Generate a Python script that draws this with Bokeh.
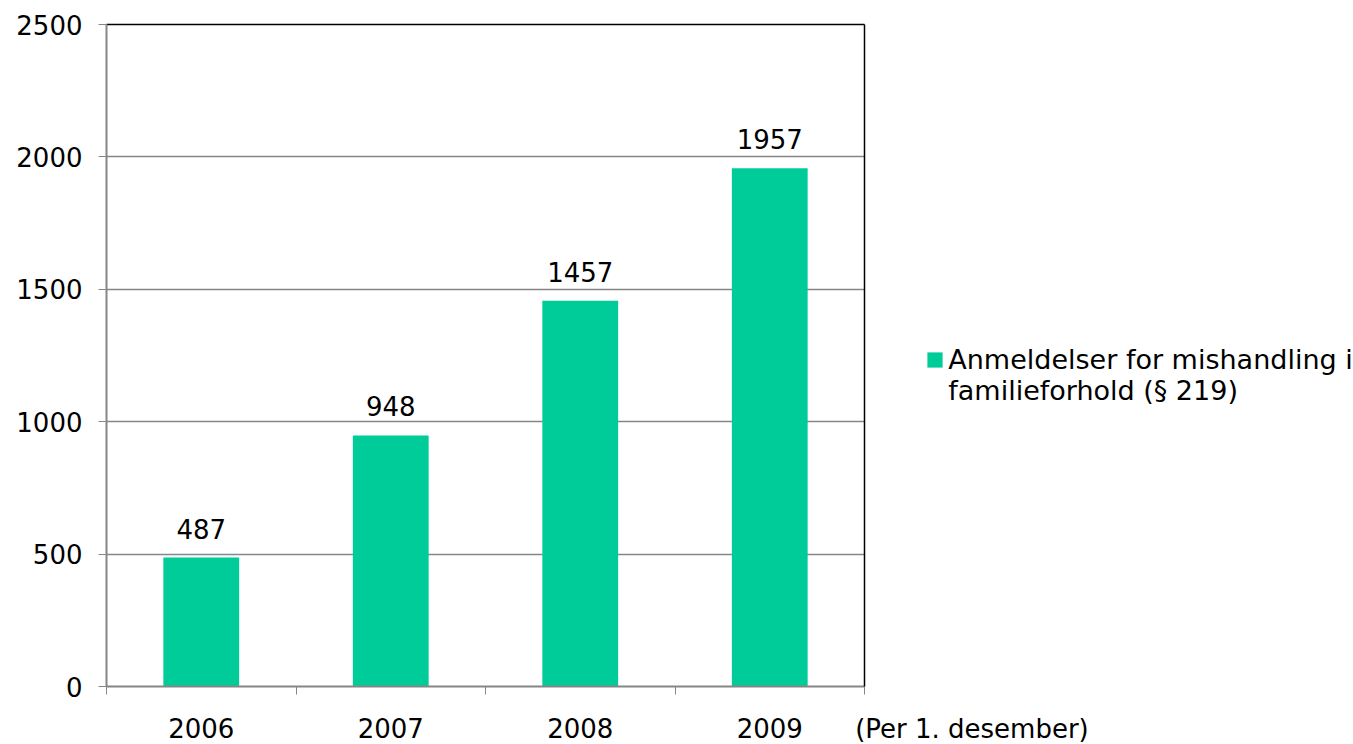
from bokeh.plotting import figure
from bokeh.models import FixedTicker, Legend, LegendItem, ColumnDataSource, Range1d, LinearAxis
from bokeh.core.properties import value
from bokeh.embed import file_html
from bokeh.resources import INLINE

years = ["2006", "2007", "2008", "2009"]
counts = [487, 948, 1457, 1957]
y_ticks = [0, 500, 1000, 1500, 2000, 2500]
series_lines = ["Anmeldelser for mishandling i", "familieforhold (§ 219)"]
x_note = "(Per 1. desember)"

FONT = "DejaVu Sans"
FS = "26px"
BAR = "#00CC99"
GRAY = "#868686"

pos = [i + 1 for i in range(len(years))]
x_end = len(years) + 0.5
src = ColumnDataSource(dict(x=pos, top=counts, lab=[str(c) for c in counts]))

p = figure(frame_width=758, frame_height=662, output_backend="svg", toolbar_location=None,
           x_range=Range1d(0.5, x_end), y_range=Range1d(0, 2500),
           min_border_left=106, min_border_top=24, min_border_right=489, min_border_bottom=40)
p.outline_line_color = None
p.background_fill_color = "white"
p.border_fill_color = "white"

r = p.vbar(x="x", top="top", width=0.4, source=src, fill_color=BAR, line_color=None)
p.text(x="x", y="top", text="lab", source=src, text_align="center", text_baseline="alphabetic",
       y_offset=-29, text_font=value(FONT), text_font_size=FS, text_color="black")
# invisible companion renderer used only for the second (wrapped) legend line
r_blank = p.vbar(x=[], top=[], width=0.4, fill_alpha=0, line_alpha=0)

# x axis: year labels at bar centres, ticks between categories,
# the note "(Per 1. desember)" hangs off the right end of the axis
xa = p.xaxis[0]
xa.ticker = FixedTicker(ticks=pos + [x_end], minor_ticks=[i + 0.5 for i in range(len(years) + 1)])
overrides = {i + 1: y for i, y in enumerate(years)}
overrides[x_end] = "\u00a0" * 26 + x_note
xa.major_label_overrides = overrides
xa.major_tick_out = 0
xa.major_tick_in = 0
xa.minor_tick_out = 8
xa.minor_tick_in = 0
xa.minor_tick_line_color = GRAY
xa.axis_line_color = GRAY
xa.axis_line_width = 2
xa.major_label_standoff = 19
xa.major_label_text_font = FONT
xa.major_label_text_font_size = FS
xa.major_label_text_color = "black"

ya = p.yaxis[0]
ya.ticker = FixedTicker(ticks=y_ticks)
ya.major_tick_out = 8
ya.major_tick_in = 0
ya.minor_tick_line_color = None
ya.major_tick_line_color = GRAY
ya.axis_line_color = GRAY
ya.axis_line_width = 2
ya.major_label_standoff = 16
ya.major_label_text_font = FONT
ya.major_label_text_font_size = FS
ya.major_label_text_color = "black"

p.xgrid.grid_line_color = None
p.ygrid.grid_line_color = GRAY
p.ygrid.grid_line_width = 1.3

for loc in ("above", "right"):
    ax = LinearAxis(ticker=FixedTicker(ticks=[]), major_tick_line_color=None, minor_tick_line_color=None,
                    axis_line_color="black", axis_line_width=1.5)
    p.add_layout(ax, loc)

legend = Legend(items=[LegendItem(label=series_lines[0], renderers=[r]),
                       LegendItem(label=series_lines[1], renderers=[r_blank])],
                location=(-179, 280), spacing=0,
                glyph_width=19, glyph_height=19, label_standoff=4, padding=0, margin=0,
                border_line_color=None, background_fill_alpha=0,
                label_text_font=FONT, label_text_font_size="27px", label_text_color="black")
p.add_layout(legend, "right")

open("out.html", "w").write(file_html(p, INLINE))
